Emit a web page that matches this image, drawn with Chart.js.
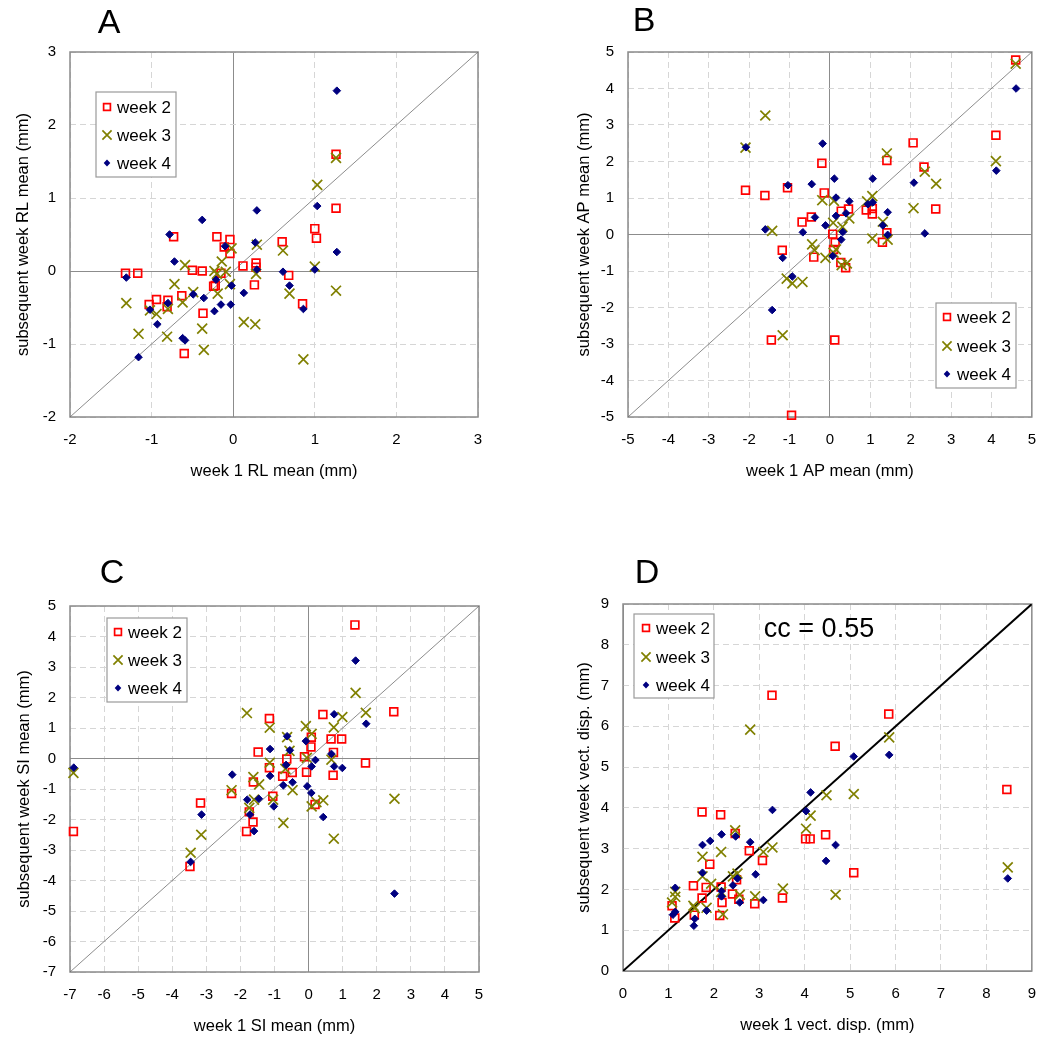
<!DOCTYPE html>
<html>
<head>
<meta charset="utf-8">
<script src="https://cdn.jsdelivr.net/npm/chart.js@4.4.1/dist/chart.umd.min.js"></script>
<style>
  body { margin: 0; background: #fff; }
  .panel { position: absolute; }
</style>
</head>
<body>
<div class="panel" style="left:0;top:0"><canvas id="chartA" width="525" height="524"></canvas></div>
<div class="panel" style="left:525px;top:0"><canvas id="chartB" width="525" height="524"></canvas></div>
<div class="panel" style="left:0;top:524px"><canvas id="chartC" width="525" height="525"></canvas></div>
<div class="panel" style="left:525px;top:524px"><canvas id="chartD" width="525" height="525"></canvas></div>
<script>
// ---- data: [week 1 value, subsequent week value] ----
const seriesLabels = ['week 2', 'week 3', 'week 4'];

// A: RL
const rlRange = [-2, 3];
const rlWeek2 = [[-1.32,-0.03],[-1.17,-0.03],[-0.73,0.47],[-0.20,0.47],[-0.04,0.43],[-0.11,0.33],[-0.04,0.24],[-0.50,0.01],[-0.38,0.00],[-0.15,-0.03],[0.12,0.07],[0.28,0.11],[0.28,0.05],[0.26,-0.19],[-0.22,-0.20],[-0.24,-0.21],[-0.63,-0.34],[-0.94,-0.39],[-1.03,-0.46],[-0.80,-0.40],[-0.81,-0.49],[-0.37,-0.58],[-0.60,-1.13],[0.60,0.40],[0.68,-0.06],[0.85,-0.45],[1.00,0.58],[1.02,0.45],[1.26,1.60],[1.26,0.86]];
const rlWeek3 = [[-1.31,-0.44],[-1.16,-0.86],[-1.02,-0.54],[-0.94,-0.59],[-0.80,-0.52],[-0.81,-0.90],[-0.72,-0.18],[-0.59,0.08],[-0.62,-0.43],[-0.49,-0.29],[-0.38,-0.79],[-0.36,-1.08],[-0.23,0.00],[-0.20,-0.04],[-0.19,-0.31],[-0.14,0.13],[-0.09,-0.01],[-0.04,-0.18],[-0.02,0.31],[0.13,-0.70],[0.27,-0.73],[0.29,0.36],[0.28,-0.04],[0.61,0.28],[0.69,-0.31],[0.86,-1.21],[1.00,0.06],[1.03,1.18],[1.26,1.55],[1.26,-0.27]];
const rlWeek4 = [[-1.31,-0.09],[-1.16,-1.18],[-1.02,-0.53],[-0.93,-0.73],[-0.80,-0.44],[-0.78,0.50],[-0.72,0.13],[-0.62,-0.92],[-0.59,-0.95],[-0.49,-0.32],[-0.38,0.70],[-0.36,-0.37],[-0.23,-0.55],[-0.21,-0.12],[-0.15,-0.46],[-0.10,0.34],[-0.03,-0.46],[-0.02,-0.20],[0.13,-0.30],[0.27,0.39],[0.29,0.83],[0.29,0.02],[0.61,-0.01],[0.69,-0.20],[0.86,-0.52],[1.00,0.02],[1.03,0.89],[1.27,2.47],[1.27,0.26]];

// B: AP
const apRange = [-5, 5];
const apWeek2 = [[4.60,4.78],[4.11,2.72],[2.06,2.51],[2.33,1.85],[2.62,0.70],[1.41,2.03],[1.41,0.05],[1.30,-0.21],[0.90,0.67],[1.05,0.71],[1.05,0.56],[0.46,0.70],[0.28,0.64],[0.07,0.01],[0.13,-0.22],[0.09,-0.41],[0.27,-0.77],[0.39,-0.91],[0.12,-2.89],[-0.14,1.14],[-0.20,1.95],[-0.46,0.48],[-0.69,0.34],[-0.40,-0.62],[-1.05,1.28],[-1.18,-0.43],[-1.61,1.07],[-2.09,1.21],[-1.45,-2.89],[-0.95,-4.95]];
const apWeek3 = [[4.60,4.68],[4.11,2.01],[2.07,0.72],[2.35,1.72],[2.63,1.39],[1.41,2.22],[1.43,-0.14],[1.31,0.35],[1.05,1.05],[0.92,0.91],[1.05,-0.11],[0.48,0.44],[0.31,0.21],[0.08,0.32],[0.10,0.92],[-0.19,0.94],[0.15,-0.41],[0.09,-0.50],[-0.11,-0.64],[0.29,-0.84],[0.42,-0.79],[-0.44,-0.27],[-0.38,-0.43],[-0.68,-1.30],[-0.93,-1.34],[-1.07,-1.21],[-1.17,-2.76],[-1.43,0.10],[-1.60,3.26],[-2.09,2.38]];
const apWeek4 = [[4.61,4.00],[4.12,1.75],[2.35,0.03],[2.08,1.42],[1.43,0.61],[1.43,-0.01],[1.31,0.25],[1.06,1.53],[1.06,0.88],[0.94,0.83],[0.48,0.91],[0.40,0.58],[0.32,0.07],[0.28,-0.14],[0.15,0.51],[0.15,1.01],[0.11,1.53],[0.07,-0.59],[-0.11,0.25],[-0.18,2.49],[-0.37,0.47],[-0.45,1.38],[-0.67,0.06],[-1.04,1.35],[-1.17,-0.64],[-0.93,-1.15],[-1.43,-2.07],[-1.60,0.14],[-2.08,2.39]];

// C: SI
const siRange = [-7, 5];
const siWeek2 = [[1.36,4.38],[2.50,1.53],[1.67,-0.15],[0.97,0.64],[0.66,0.64],[0.73,0.20],[0.42,1.44],[0.72,-0.55],[0.07,0.38],[0.08,0.70],[-0.12,0.06],[-0.06,-0.45],[0.19,-1.51],[-0.64,-0.02],[-0.48,-0.46],[-0.76,-0.58],[-1.15,1.31],[-1.15,-0.30],[-1.48,0.21],[-1.05,-1.24],[-1.62,-0.77],[-1.74,-1.75],[-1.63,-2.08],[-1.82,-2.39],[-2.26,-1.15],[-3.17,-1.46],[-3.48,-3.54],[-6.90,-2.39]];
const siWeek3 = [[1.38,2.15],[1.68,1.50],[0.99,1.36],[0.74,1.02],[0.67,-0.04],[2.52,-1.32],[0.74,-2.63],[-0.08,1.06],[0.09,0.81],[-0.05,0.02],[0.09,-1.57],[0.43,-1.37],[0.23,-1.43],[-0.63,0.70],[-0.56,0.25],[-0.68,-0.34],[-0.47,-1.04],[-0.74,-2.11],[-1.14,1.01],[-1.14,-0.14],[-1.04,-1.35],[-1.81,1.49],[-1.62,-0.61],[-1.45,-0.85],[-1.60,-1.35],[-1.74,-1.62],[-2.26,-1.04],[-3.15,-2.50],[-3.46,-3.09],[-6.90,-0.47]];
const siWeek4 = [[1.38,3.21],[1.69,1.14],[0.75,1.45],[0.67,0.15],[0.75,-0.26],[0.99,-0.31],[0.20,-0.05],[0.09,-0.26],[-0.04,-0.91],[0.08,-1.13],[0.43,-1.92],[2.52,-4.43],[-0.08,0.57],[-0.63,0.73],[-0.55,0.27],[-0.66,-0.21],[-0.47,-0.78],[-0.74,-0.88],[-1.13,0.31],[-1.13,-0.57],[-1.02,-1.57],[-1.46,-1.32],[-1.80,-1.35],[-1.72,-1.84],[-1.60,-2.38],[-2.24,-0.53],[-3.14,-1.84],[-3.46,-3.39],[-6.89,-0.30]];

// D: vector displacement
const vdRange = [0, 9];
const vdWeek2 = [[3.28,6.76],[5.85,6.30],[4.67,5.51],[8.45,4.45],[1.74,3.90],[2.15,3.83],[2.47,3.37],[2.78,2.95],[3.07,2.71],[1.91,2.62],[4.02,3.24],[4.12,3.24],[4.46,3.34],[5.08,2.41],[3.51,1.79],[2.90,1.65],[1.55,2.09],[1.83,2.05],[2.16,2.06],[2.41,1.89],[2.50,2.24],[2.55,1.76],[1.74,1.79],[2.18,1.68],[2.13,1.36],[1.57,1.37],[1.08,1.60],[1.14,1.30]];
const vdWeek3 = [[2.80,5.92],[5.86,5.73],[4.48,4.31],[5.08,4.34],[4.13,3.81],[4.03,3.49],[3.29,3.03],[3.09,2.92],[2.47,3.45],[2.16,2.92],[1.75,2.80],[1.75,2.32],[1.94,2.14],[2.42,2.32],[2.52,2.39],[2.57,1.87],[2.91,1.83],[3.52,2.02],[4.68,1.87],[8.47,2.54],[2.16,1.94],[1.84,1.55],[1.55,1.60],[1.58,1.54],[2.20,1.39],[1.15,1.94],[1.15,1.82],[1.08,1.68]];
const vdWeek4 = [[5.08,5.26],[5.86,5.30],[4.13,4.38],[4.03,3.92],[3.29,3.95],[4.68,3.09],[4.47,2.70],[2.80,3.16],[2.48,3.30],[2.17,3.35],[1.92,3.19],[1.75,3.09],[1.75,2.41],[2.92,2.37],[2.42,2.10],[2.52,2.27],[3.09,1.74],[2.57,1.68],[8.47,2.27],[2.17,1.96],[2.17,1.83],[1.84,1.48],[1.58,1.28],[1.56,1.11],[1.15,2.04],[1.15,1.45],[1.10,1.38]];

const FONT = '"Liberation Sans", Arial, sans-serif';

// marker styles for the three weeks
const markers = [
  { style: 'rect',     radius: 5.5, color: '#ff0000', fill: 'rgba(0,0,0,0)', width: 1.7 },
  { style: 'crossRot', radius: 7,   color: '#808000', fill: 'rgba(0,0,0,0)', width: 1.7 },
  { style: 'rectRot',  radius: 3.8, color: '#000080', fill: '#000080',       width: 1 }
];

function drawLegendMarker(ctx, m, x, y) {
  ctx.save();
  ctx.strokeStyle = m.color;
  ctx.fillStyle = m.fill;
  ctx.lineWidth = m.width;
  ctx.beginPath();
  if (m.style === 'rect') {
    ctx.rect(x - 3.4, y - 3.4, 6.8, 6.8);
    ctx.stroke();
  } else if (m.style === 'crossRot') {
    ctx.moveTo(x - 4.6, y - 4.6); ctx.lineTo(x + 4.6, y + 4.6);
    ctx.moveTo(x - 4.6, y + 4.6); ctx.lineTo(x + 4.6, y - 4.6);
    ctx.stroke();
  } else {
    ctx.moveTo(x - 3.3, y); ctx.lineTo(x, y - 3.6); ctx.lineTo(x + 3.3, y); ctx.lineTo(x, y + 3.6);
    ctx.closePath();
    ctx.fill();
  }
  ctx.restore();
}

// frame, panel letter, legend box and note
const decorPlugin = {
  id: 'decor',
  beforeDatasetsDraw(chart, args, o) {
    const { ctx, chartArea: a } = chart;
    ctx.save();
    ctx.strokeStyle = '#8a8a8a';
    ctx.lineWidth = 1.5;
    ctx.strokeRect(a.left, a.top, a.right - a.left, a.bottom - a.top);
    ctx.restore();
  },
  afterDraw(chart, args, o) {
    const ctx = chart.ctx;
    ctx.save();
    ctx.fillStyle = '#000';
    ctx.textAlign = 'center';
    ctx.textBaseline = 'middle';
    ctx.font = '34px ' + FONT;
    ctx.fillText(o.letter, o.letterPos[0], o.letterPos[1]);
    if (o.note) {
      ctx.font = '27px ' + FONT;
      ctx.fillText(o.note, o.notePos[0], o.notePos[1]);
    }
    // legend
    const L = o.legend;
    ctx.fillStyle = '#fff';
    ctx.fillRect(L.box[0], L.box[1], L.box[2] - L.box[0], L.box[3] - L.box[1]);
    ctx.strokeStyle = '#9a9a9a';
    ctx.lineWidth = 1.2;
    ctx.strokeRect(L.box[0], L.box[1], L.box[2] - L.box[0], L.box[3] - L.box[1]);
    ctx.font = '17px ' + FONT;
    ctx.textAlign = 'left';
    ctx.fillStyle = '#000';
    seriesLabels.forEach((lab, i) => {
      drawLegendMarker(ctx, markers[i], L.markerX, L.rows[i]);
      ctx.fillText(lab, L.textX, L.rows[i] + 1);
    });
    ctx.restore();
  }
};

function toPts(arr) {
  return arr.map(p => ({ x: p[0], y: p[1] }));
}

function axis(range, titleText, size, titlePad) {
  return {
    type: 'linear',
    min: range[0],
    max: range[1],
    afterFit: size,
    ticks: { stepSize: 1, autoSkip: false, padding: 14, color: '#000', font: { size: 15, family: FONT } },
    grid: {
      drawTicks: false,
      lineWidth: 1,
      color: c => (c.tick && c.tick.value === 0) ? '#8c8c8c' : '#d6d6d6'
    },
    border: { display: false, dash: c => (c.tick && c.tick.value !== 0) ? [6, 4] : [] },
    title: { display: true, text: titleText, color: '#000', font: { size: 16.5, family: FONT }, padding: titlePad }
  };
}

function makePanel(id, p) {
  const canvas = document.getElementById(id);
  const W = canvas.width, H = canvas.height;
  const a = p.area;
  const datasets = p.series.map((s, i) => ({
    label: seriesLabels[i],
    data: toPts(s),
    pointStyle: markers[i].style,
    pointRadius: markers[i].radius,
    pointBorderWidth: markers[i].width,
    pointBorderColor: markers[i].color,
    pointBackgroundColor: markers[i].fill,
    borderColor: markers[i].color,
    backgroundColor: markers[i].fill,
    showLine: false,
    clip: false,
    order: 2 - i
  }));
  datasets.push({
    type: 'line',
    label: 'y = x',
    data: [{ x: p.range[0], y: p.range[0] }, { x: p.range[1], y: p.range[1] }],
    borderColor: p.diagColor,
    borderWidth: p.diagWidth,
    pointRadius: 0,
    fill: false,
    order: 5
  });
  new Chart(canvas.getContext('2d'), {
    type: 'scatter',
    data: { datasets: datasets },
    options: {
      responsive: false,
      animation: false,
      layout: { padding: { left: 0, top: a.t, right: W - a.r, bottom: H - a.b - 70 } },
      scales: {
        x: axis(p.range, p.xTitle, s => { s.height = 70; }, { top: 0, bottom: 6 }),
        y: axis(p.range, p.yTitle, s => { s.width = a.l; }, { top: p.yTitleX - 10, bottom: 0 })
      },
      plugins: {
        legend: { display: false },
        tooltip: { enabled: false },
        decor: { letter: p.letter, letterPos: p.letterPos, legend: p.legend, note: p.note, notePos: p.notePos }
      }
    },
    plugins: [decorPlugin]
  });
}

makePanel('chartA', {
  letter: 'A', letterPos: [109, 24],
  range: rlRange, series: [rlWeek2, rlWeek3, rlWeek4],
  area: { l: 70, t: 52, r: 478, b: 417 },
  xTitle: 'week 1 RL mean (mm)', yTitle: 'subsequent week RL mean (mm)', yTitleX: 24,
  diagColor: '#6e6e6e', diagWidth: 0.8,
  legend: { box: [96, 92, 176, 177], rows: [107, 135, 163], markerX: 107, textX: 117 }
});
makePanel('chartB', {
  letter: 'B', letterPos: [119, 22],
  range: apRange, series: [apWeek2, apWeek3, apWeek4],
  area: { l: 103, t: 52, r: 512, b: 417 },
  xTitle: 'week 1 AP mean (mm)', yTitle: 'subsequent week AP mean (mm)', yTitleX: 60,
  diagColor: '#6e6e6e', diagWidth: 0.8,
  legend: { box: [411, 303, 491, 388], rows: [317, 346, 374], markerX: 422, textX: 432 }
});
makePanel('chartC', {
  letter: 'C', letterPos: [112, 50],
  range: siRange, series: [siWeek2, siWeek3, siWeek4],
  area: { l: 70, t: 82, r: 479, b: 448 },
  xTitle: 'week 1 SI mean (mm)', yTitle: 'subsequent week SI mean (mm)', yTitleX: 25,
  diagColor: '#6e6e6e', diagWidth: 0.8,
  legend: { box: [107, 94, 187, 178], rows: [108, 136, 164], markerX: 118, textX: 128 }
});
makePanel('chartD', {
  letter: 'D', letterPos: [122, 50],
  range: vdRange, series: [vdWeek2, vdWeek3, vdWeek4],
  area: { l: 98, t: 80, r: 516, b: 447 },
  xTitle: 'week 1 vect. disp. (mm)', yTitle: 'subsequent week vect. disp. (mm)', yTitleX: 60,
  diagColor: '#000000', diagWidth: 2,
  legend: { box: [109, 90, 189, 174], rows: [104, 133, 161], markerX: 121, textX: 131 },
  note: 'cc = 0.55', notePos: [294, 106]
});
</script>
</body>
</html>
